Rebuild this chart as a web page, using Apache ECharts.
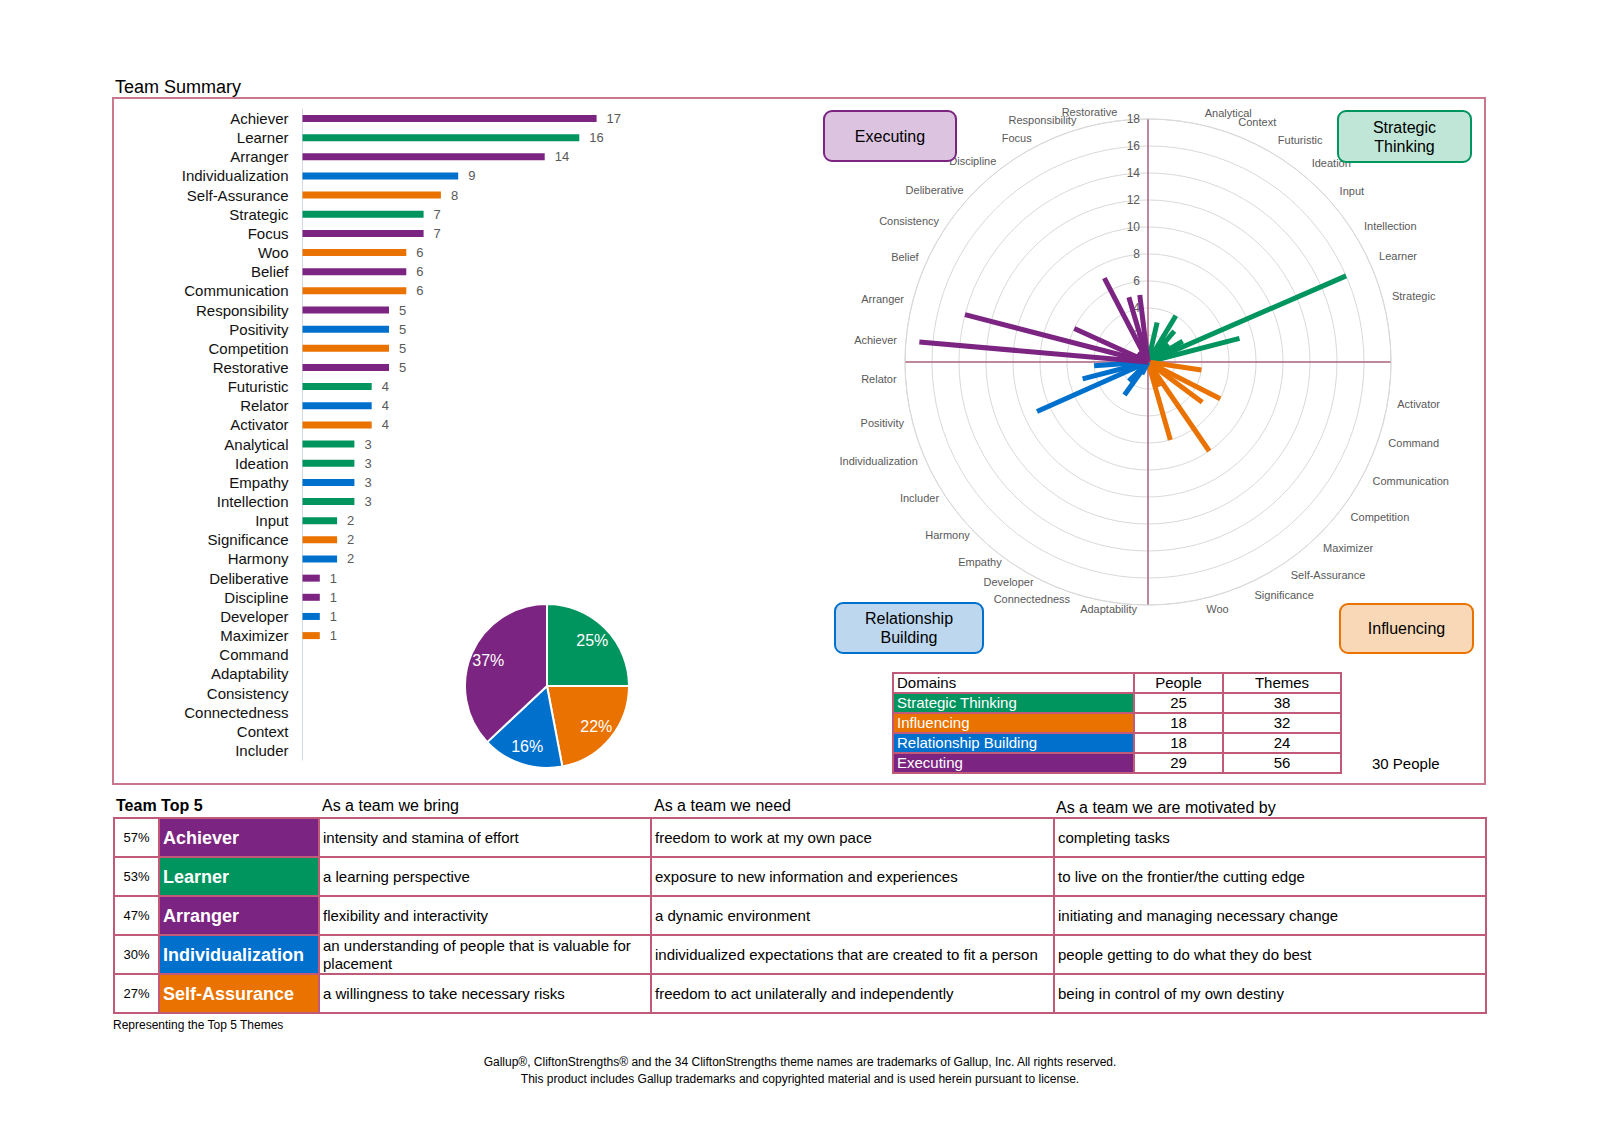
<!DOCTYPE html>
<html>
<head>
<meta charset="utf-8">
<title>Team Summary</title>
<script src="https://cdn.jsdelivr.net/npm/echarts@6/dist/echarts.min.js"></script>
<style>
  html, body { margin: 0; padding: 0; background: #fff; }
  body { width: 1600px; height: 1130px; position: relative; overflow: hidden;
         font-family: Arial, "Liberation Sans", Helvetica, sans-serif; color: #000; }
  #chart { position: absolute; left: 0; top: 0; width: 1600px; height: 1130px; }
  .abs { position: absolute; white-space: nowrap; }
  #summaryTitle { left: 115px; top: 77px; font-size: 18px; }
  #summaryBox { position: absolute; left: 112px; top: 97px; width: 1374px; height: 688px;
                border: 2px solid #C9778D; box-sizing: border-box; }
  .domainBox { position: absolute; box-sizing: border-box; border: 2px solid; border-radius: 9px;
               display: flex; align-items: center; justify-content: center; text-align: center;
               font-size: 16px; line-height: 19px; }
  table { border-collapse: collapse; position: absolute; table-layout: fixed; }
  #domainTable { left: 892px; top: 672px; width: 448px; height: 102px; font-size: 15px; }
  #domainTable td { border: 2px solid #C05A78; padding: 0 3px; line-height: 16px; }
  #domainTable td.num { text-align: center; }
  #domainTable td.dom { color: #fff; }
  #teamSize { left: 1372px; top: 755px; font-size: 15px; }
  #topTable { left: 113px; top: 817px; width: 1372px; font-size: 15px; }
  #topTable tr { height: 39px; }
  #topTable td { border: 2px solid #C05A78; padding: 0 3px; line-height: 18px; height: 35px; }
  #topTable td.pct { text-align: center; font-size: 13px; }
  #topTable td.theme { color: #fff; font-weight: bold; font-size: 18px; }
  .topHead { top: 797px; font-size: 16px; }
  #topNote { left: 113px; top: 1018px; font-size: 12px; font-family: "Liberation Sans Narrow", "Arial Narrow", Arial, sans-serif; }
  #footer { left: 0; width: 1600px; top: 1054px; text-align: center; font-size: 12px; line-height: 17px; }
</style>
</head>
<body>
<div id="chart"></div>
<div id="summaryBox"></div>
<div id="summaryTitle" class="abs">Team Summary</div>
<div id="boxes"></div>
<table id="domainTable"></table>
<div id="teamSize" class="abs"></div>
<div class="abs topHead" style="left:116px;font-weight:bold;">Team Top 5</div>
<div class="abs topHead" style="left:322px;">As a team we bring</div>
<div class="abs topHead" style="left:654px;">As a team we need</div>
<div class="abs topHead" style="left:1056px;top:799px;">As a team we are motivated by</div>
<table id="topTable"></table>
<div id="topNote" class="abs">Representing the Top 5 Themes</div>
<div id="footer" class="abs">Gallup®, CliftonStrengths® and the 34 CliftonStrengths theme names are trademarks of Gallup, Inc. All rights reserved.<br>This product includes Gallup trademarks and copyrighted material and is used herein pursuant to license.</div>
<script>
// theme counts, in the order of the bar list
const themes = ['Achiever', 'Learner', 'Arranger', 'Individualization', 'Self-Assurance', 'Strategic',
  'Focus', 'Woo', 'Belief', 'Communication', 'Responsibility', 'Positivity', 'Competition',
  'Restorative', 'Futuristic', 'Relator', 'Activator', 'Analytical', 'Ideation', 'Empathy',
  'Intellection', 'Input', 'Significance', 'Harmony', 'Deliberative', 'Discipline', 'Developer',
  'Maximizer', 'Command', 'Adaptability', 'Consistency', 'Connectedness', 'Context', 'Includer']
const themeCounts = [17, 16, 14, 9, 8, 7, 7, 6, 6, 6, 5, 5, 5, 5, 4, 4, 4, 3, 3, 3, 3, 2, 2, 2,
  1, 1, 1, 1, 0, 0, 0, 0, 0, 0]
const themeDomains = ['EX', 'ST', 'EX', 'RB', 'IN', 'ST', 'EX', 'IN', 'EX', 'IN', 'EX', 'RB', 'IN',
  'EX', 'ST', 'RB', 'IN', 'ST', 'ST', 'RB', 'ST', 'ST', 'IN', 'RB', 'EX', 'EX', 'RB', 'IN', 'IN',
  'RB', 'EX', 'RB', 'ST', 'RB']

const domainKeys = ['ST', 'IN', 'RB', 'EX']
const domainNames = ['Strategic Thinking', 'Influencing', 'Relationship Building', 'Executing']
const domainColors = { ST: '#00945F', IN: '#E97200', RB: '#0070CD', EX: '#7B2481' }

// wheel: themes clockwise from the top, with their angle in degrees
const wheelThemes = ['Analytical', 'Context', 'Futuristic', 'Ideation', 'Input', 'Intellection',
  'Learner', 'Strategic', 'Activator', 'Command', 'Communication', 'Competition', 'Maximizer',
  'Self-Assurance', 'Significance', 'Woo', 'Adaptability', 'Connectedness', 'Developer', 'Empathy',
  'Harmony', 'Includer', 'Individualization', 'Positivity', 'Relator', 'Achiever', 'Arranger',
  'Belief', 'Consistency', 'Deliberative', 'Discipline', 'Focus', 'Responsibility', 'Restorative']
const wheelAngles = [13, 21, 31, 40.5, 49.5, 59, 66.5, 75.5, 98.5, 107.5, 117, 126.5, 136, 145.5,
  155, 164, 189, 198, 207, 215.5, 225, 236, 246, 255.5, 266, 275, 284.5, 294.5, 304, 313, 323,
  332.5, 343.5, 353]

// pie percentages as printed
const pieShares = [25, 22, 16, 37]

// domains table
const domainPeople = [25, 18, 18, 29]
const domainThemes = [38, 32, 24, 56]
const teamSize = 30

// team top 5
const top5Themes = ['Achiever', 'Learner', 'Arranger', 'Individualization', 'Self-Assurance']
const top5Share = [57, 53, 47, 30, 27]
const top5Bring = ['intensity and stamina of effort', 'a learning perspective',
  'flexibility and interactivity', 'an understanding of people that is valuable for placement',
  'a willingness to take necessary risks']
const top5Need = ['freedom to work at my own pace', 'exposure to new information and experiences',
  'a dynamic environment', 'individualized expectations that are created to fit a person',
  'freedom to act unilaterally and independently']
const top5Motivated = ['completing tasks', 'to live on the frontier/the cutting edge',
  'initiating and managing necessary change', 'people getting to do what they do best',
  'being in control of my own destiny']

const domainBoxes = [
  { key: 'EX', text: 'Executing', left: 823, top: 110, width: 134, height: 52, bg: '#DCC4E0' },
  { key: 'ST', text: 'Strategic<br>Thinking', left: 1337, top: 110, width: 135, height: 53, bg: '#BFE6D6' },
  { key: 'RB', text: 'Relationship<br>Building', left: 834, top: 602, width: 150, height: 52, bg: '#BDD7EE' },
  { key: 'IN', text: 'Influencing', left: 1339, top: 603, width: 135, height: 51, bg: '#F9D8B7' }
]

function domainOf (name) {
  return themeDomains[themes.indexOf(name)]
}

// ---- html parts ----
document.getElementById('boxes').innerHTML = domainBoxes.map(b =>
  '<div class="domainBox" style="left:' + b.left + 'px;top:' + b.top + 'px;width:' + b.width +
  'px;height:' + b.height + 'px;background:' + b.bg + ';border-color:' + domainColors[b.key] +
  '">' + b.text + '</div>').join('')

let dt = '<tr><td>Domains</td><td class="num">People</td><td class="num">Themes</td></tr>'
domainNames.forEach((n, i) => {
  dt += '<tr><td class="dom" style="background:' + domainColors[domainKeys[i]] + '">' + n +
    '</td><td class="num">' + domainPeople[i] + '</td><td class="num">' + domainThemes[i] + '</td></tr>'
})
document.getElementById('domainTable').innerHTML =
  '<colgroup><col style="width:241px"><col style="width:89px"><col style="width:118px"></colgroup>' + dt
document.getElementById('teamSize').textContent = teamSize + ' People'

let tt = '<colgroup><col style="width:45px"><col style="width:160px"><col style="width:332px">' +
  '<col style="width:403px"><col style="width:432px"></colgroup>'
top5Themes.forEach((t, i) => {
  tt += '<tr><td class="pct">' + top5Share[i] + '%</td><td class="theme" style="background:' +
    domainColors[domainOf(t)] + '">' + t + '</td><td>' + top5Bring[i] + '</td><td>' +
    top5Need[i] + '</td><td>' + top5Motivated[i] + '</td></tr>'
})
document.getElementById('topTable').innerHTML = tt

// ---- charts ----
const chart = echarts.init(document.getElementById('chart'), null, { renderer: 'svg' })

const barData = themes.map((t, i) => ({
  value: themeCounts[i],
  itemStyle: { color: domainColors[themeDomains[i]] }
}))

const wheelData = wheelThemes.map((name, k) => {
  const i = themes.indexOf(name)
  return { name: name, value: [themeCounts[i], wheelAngles[k]], itemStyle: { color: domainColors[themeDomains[i]] } }
})

const pieData = domainKeys.map((k, i) => ({
  name: domainNames[i],
  value: pieShares[i],
  itemStyle: { color: domainColors[k] }
}))

const RADIUS_MAX = 18

// small vertical nudge of the wheel names, per quarter of the circle
function nameNudge (s, c) {
  const twice = 2 * Math.abs(s) * Math.abs(c)
  if (c < 0 && s > 0) return -7 * twice // upper right
  if (c >= 0 && s > 0) return 5 // lower right
  if (c >= 0 && s <= 0) return -5 * twice // lower left
  return 0
}

const option = {
  animation: false,
  textStyle: { fontFamily: 'Arial, "Liberation Sans", sans-serif' },
  grid: { left: 302.5, top: 108.9, width: 346, height: 651.2 },
  xAxis: { type: 'value', min: 0, max: 20, show: false },
  yAxis: {
    type: 'category',
    inverse: true,
    data: themes,
    axisLine: { lineStyle: { color: '#D3D9E4', width: 1 } },
    axisTick: { show: false },
    axisLabel: { interval: 0, color: '#111', fontSize: 15, margin: 14 }
  },
  polar: { center: [1148, 362], radius: 243 },
  angleAxis: {
    type: 'value',
    min: 0,
    max: 360,
    interval: 90,
    startAngle: 90,
    clockwise: true,
    axisLine: { lineStyle: { color: '#D9D9D9', width: 1 } },
    axisTick: { show: false },
    axisLabel: { show: false },
    splitLine: { show: true, lineStyle: { color: '#A8607E', width: 1.5 } }
  },
  radiusAxis: {
    type: 'value',
    min: 0,
    max: RADIUS_MAX,
    interval: 2,
    axisLine: { show: false },
    axisTick: { show: false },
    axisLabel: { color: '#595959', fontSize: 12, margin: 8 },
    splitLine: { lineStyle: { color: '#D9D9D9', width: 1 } }
  },
  series: [
    {
      type: 'bar',
      data: barData,
      barWidth: 7,
      label: {
        show: true,
        position: 'right',
        distance: 10,
        color: '#595959',
        fontSize: 13,
        formatter: p => (p.value ? p.value : '')
      }
    },
    {
      type: 'custom',
      coordinateSystem: 'polar',
      encode: { radius: 0, angle: 1 },
      renderItem: function (params, api) {
        const v = api.value(0)
        const ang = api.value(1)
        const tip = api.coord([v, ang])
        const base = api.coord([0, ang])
        const edge = api.coord([RADIUS_MAX, ang])
        const dx = edge[0] - base[0]
        const dy = edge[1] - base[1]
        const len = Math.sqrt(dx * dx + dy * dy)
        const s = dx / len
        const c = dy / len
        // theme name just outside the outer ring
        const limit = dy < 0 ? 0.1 : 0.3
        const align = Math.abs(s) < limit ? 'center' : (s > 0 ? 'left' : 'right')
        const children = [{
          type: 'text',
          x: edge[0] + s * 9,
          y: edge[1] + c * 9 + nameNudge(s, c),
          style: {
            text: wheelThemes[params.dataIndex],
            align: align,
            verticalAlign: 'middle',
            fill: '#595959',
            fontSize: 11,
            fontFamily: 'Arial, "Liberation Sans", sans-serif'
          }
        }]
        if (v > 0) {
          children.unshift({
            type: 'line',
            shape: { x1: base[0], y1: base[1], x2: tip[0], y2: tip[1] },
            style: { stroke: api.visual('color'), lineWidth: 5 }
          })
        }
        return { type: 'group', children: children }
      },
      data: wheelData
    },
    {
      type: 'pie',
      center: [547, 686],
      radius: [0, 82],
      startAngle: 90,
      clockwise: true,
      label: { show: false },
      labelLine: { show: false },
      itemStyle: { borderColor: '#fff', borderWidth: 2 },
      data: pieData
    },
    {
      // label ring, puts the percent labels further out than the default inner label
      type: 'pie',
      center: [547, 686],
      radius: [40, 82],
      startAngle: 90,
      clockwise: true,
      silent: true,
      itemStyle: { color: 'rgba(0,0,0,0)', borderWidth: 0 },
      label: { show: true, position: 'inside', color: '#fff', fontSize: 16, formatter: '{c}%' },
      labelLine: { show: false },
      data: pieShares.map((v, i) => ({ name: domainNames[i], value: v }))
    }
  ]
}
chart.setOption(option)
</script>
</body>
</html>
